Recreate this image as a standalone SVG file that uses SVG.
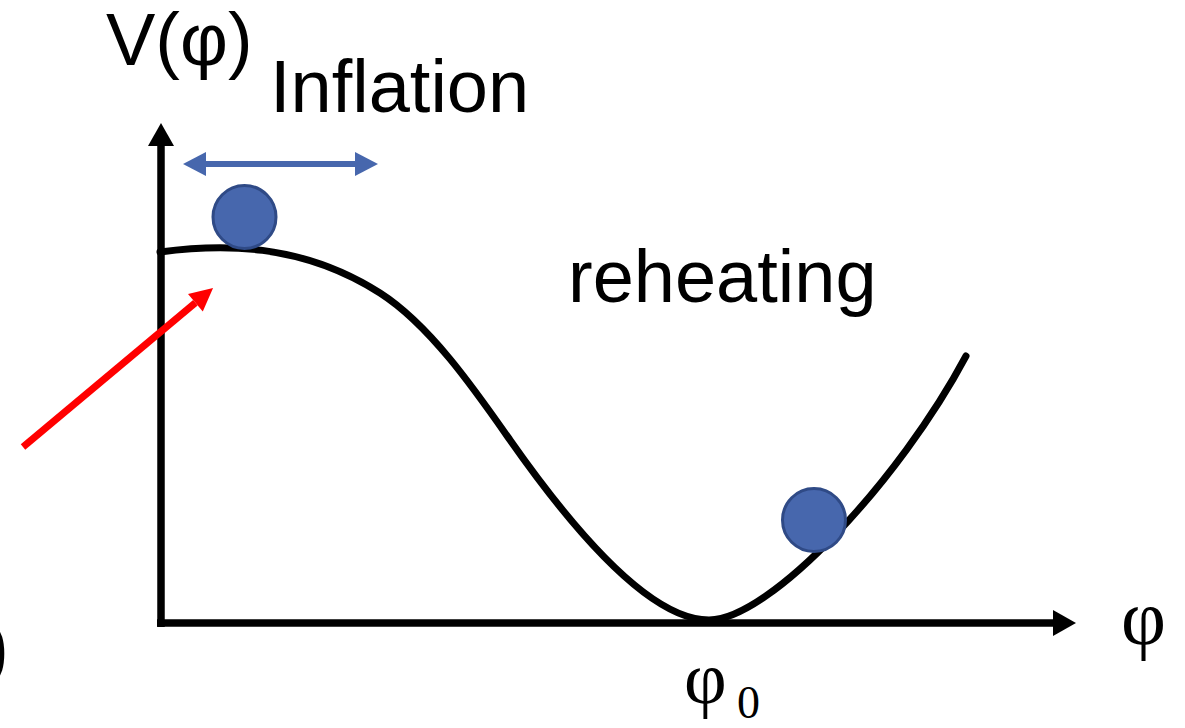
<svg xmlns="http://www.w3.org/2000/svg" width="1185" height="728" viewBox="0 0 1185 728">
<style>
.sans{font-family:"Liberation Sans",Arial,sans-serif;fill:#000}
.serif{font-family:"Liberation Serif","Times New Roman",serif;fill:#000}
.axis{stroke:#000;stroke-width:7.5;fill:none}
.curve{stroke:#000;stroke-width:7;fill:none;stroke-linecap:round}
.ball{fill:#4767ad;stroke:#2f4a86;stroke-width:3}
.blue{stroke:#4767ad;stroke-width:6;fill:none}
.red{stroke:#ff0000;stroke-width:7;fill:none}
</style>
<defs>
<marker id="hk" markerUnits="userSpaceOnUse" markerWidth="23" markerHeight="26" refX="0" refY="13" orient="auto" overflow="visible"><path d="M0,0 L23,13 L0,26 z" fill="#000"/></marker>
<marker id="hb" markerUnits="userSpaceOnUse" markerWidth="23" markerHeight="24" refX="0" refY="12" orient="auto-start-reverse" overflow="visible"><path d="M0,0 L23,12 L0,24 z" fill="#4767ad"/></marker>
<marker id="hr" markerUnits="userSpaceOnUse" markerWidth="23" markerHeight="23" refX="0" refY="11.5" orient="auto" overflow="visible"><path d="M0,0 L23,11.5 L0,23 z" fill="#ff0000"/></marker>
</defs>
<g id="connectors">
<line id="y-axis" class="axis" x1="161" y1="627" x2="161" y2="146" marker-end="url(#hk)"/>
<line id="x-axis" class="axis" x1="157" y1="623" x2="1053" y2="623" marker-end="url(#hk)"/>
<path id="potential" class="curve" d="M160,252 C220,244 300,242 380,293 C430,325 475,390 510,440 C550,497 640,620 709,620 C770,620 900,480 966,356"/>
<line id="inflation-range" class="blue" x1="206" y1="164" x2="355" y2="164" marker-start="url(#hb)" marker-end="url(#hb)"/>
<line id="red-arrow" class="red" x1="23" y1="447" x2="195.4" y2="302.7" marker-end="url(#hr)"/>
</g>
<g id="ball-top"><circle class="ball" cx="244.5" cy="217" r="31.5"/></g>
<g id="ball-bottom"><circle class="ball" cx="814" cy="520" r="31.5"/></g>
<g id="label-V"><text class="sans" x="106" y="65" font-size="74">V(φ)</text></g>
<g id="label-inflation"><text class="sans" x="270" y="112" font-size="74">Inflation</text></g>
<g id="label-reheating"><text class="sans" x="568" y="302" font-size="74">reheating</text></g>
<g id="label-phi"><text class="serif" x="1121" y="644" font-size="78">φ</text></g>
<g id="label-phi0"><text class="serif" x="684" y="703" font-size="74">φ<tspan font-size="46" x="737" y="718">0</tspan></text></g>
<g id="partial-paren"><text class="serif" x="-20" y="674" font-size="84">)</text></g>
</svg>
